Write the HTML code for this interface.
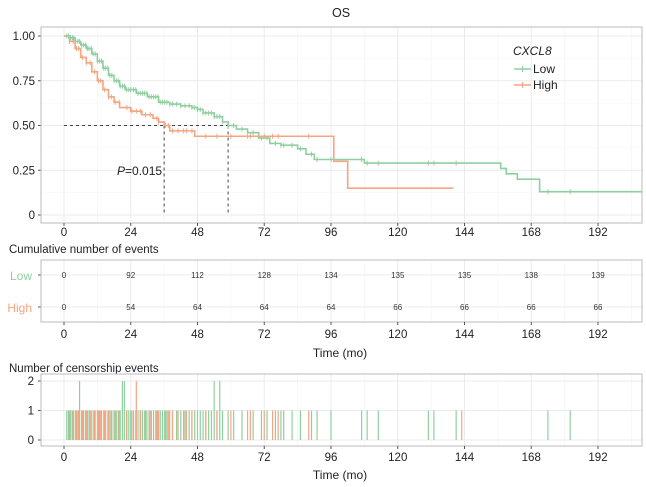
<!DOCTYPE html>
<html><head><meta charset="utf-8"><style>
body{margin:0;background:#fff;}
svg text{font-family:"Liberation Sans",sans-serif;}
</style></head><body>
<svg id="c" width="646" height="482" xmlns="http://www.w3.org/2000/svg"></svg>
<script>
const xTicks=[0,24,48,72,96,120,144,168,192];
const yTicks=[0,0.25,0.5,0.75,1];
const yTickLabels=["0","0.25","0.50","0.75","1.00"];
const lowT=[0,2,4,6,8,10,12,14,16,18,20,22,26,30,34,38,42,46,48,50,54,57,59,62,66,70,74,78,84,87,90,108,157,159,163,171,208];
const lowS=[1,0.99,0.97,0.95,0.93,0.9,0.86,0.82,0.78,0.75,0.72,0.7,0.68,0.66,0.63,0.62,0.61,0.6,0.59,0.57,0.55,0.52,0.5,0.48,0.46,0.43,0.4,0.39,0.37,0.34,0.31,0.29,0.26,0.23,0.2,0.13,0.13];
const highT=[0,2,4,6,8,10,12,14,16,18,20,24,28,32,34,36,38,47,97,102,140];
const highS=[1,0.97,0.93,0.88,0.85,0.8,0.75,0.7,0.66,0.63,0.6,0.58,0.56,0.54,0.52,0.5,0.47,0.44,0.3,0.15,0.15];
const lowCum=[0,92,112,128,134,135,135,138,139];
const highCum=[0,54,64,64,64,66,66,66,66];
const lowCens=[1,1.6,2.4,3,3.5,4.2,5,5.6,6.3,7,7.7,8.4,9,9.8,10.5,11.2,12,12.8,13.5,14.3,15,15.8,16.5,17.2,18,18.8,19.5,20.2,21,21.7,22.5,23.3,24,25,25.8,26.6,27.4,28.2,29,29.8,30.6,31.4,32.2,33,33.8,34.6,35.4,36.2,37,38,39,40.5,42,43.5,45,46,47,48,49,50,51,52,53,54,55,56,57,59,61,64,68,71,73,76,78,79,82,85,89,91,96,107,109,113,131,133,141,174,182];
const lowCensN=[1,1,1,1,1,1,1,2,1,1,1,1,1,1,1,1,1,1,1,1,1,1,1,1,1,1,1,1,2,2,1,1,1,1,1,1,1,1,1,1,1,1,1,1,1,1,1,1,1,1,1,1,1,1,1,1,1,1,1,1,1,1,1,2,1,2,1,1,1,1,1,1,1,1,1,1,1,1,1,1,1,1,1,1,1,1,1,1,1];
const highCens=[2,3.3,4.5,5.3,6.6,8,9.4,11,12.4,13.2,14.6,16,17,18.4,19.8,22.6,24.4,26,27.5,29.3,31,33.4,34,36.5,37.5,39,41,43,44,46,51,55,60,66,67,72,75,77,88,143];
const highCensN=[1,1,1,1,1,1,1,1,1,1,1,1,1,1,1,1,1,2,1,1,1,1,1,1,1,1,1,1,1,1,1,1,1,1,1,1,1,1,1,1];
const G="#8fcf9f",O="#f4a582";
const svg=document.getElementById('c');const NS="http://www.w3.org/2000/svg";
function el(t,a,p){const e=document.createElementNS(NS,t);for(const k in a)e.setAttribute(k,a[k]);(p||svg).appendChild(e);return e;}
const X0=41,X1=642;
const xs=v=>64+v*(598-64)/192;
const ys=v=>215-v*179;
let t=el('text',{x:341,y:17,'text-anchor':'middle','font-size':12.5,fill:'#222'});t.textContent='OS';

function panel(y0,y1,name){
 const g=el('g',{});
 xTicks.forEach((v,i)=>{el('line',{x1:xs(v),x2:xs(v),y1:y0,y2:y1,stroke:'#ebebeb','stroke-width':1},g);
  el('line',{x1:xs(v+12),x2:xs(v+12),y1:y0,y2:y1,stroke:'#f4f4f4','stroke-width':0.6},g);});
 return g;}
function xAxis(g,y1,ly){xTicks.forEach(v=>{el('line',{x1:xs(v),x2:xs(v),y1:y1,y2:y1+3,stroke:'#555'},g);
 const tt=el('text',{x:xs(v),y:ly,'text-anchor':'middle','font-size':11.5,fill:'#222'},g);tt.textContent=v;
 });}
const g1=panel(27,223,'survival-panel');
yTicks.forEach((v,i)=>{el('line',{x1:X0,x2:X1,y1:ys(v),y2:ys(v),stroke:'#ebebeb'},g1);
 if(i<4)el('line',{x1:X0,x2:X1,y1:ys(v+0.125),y2:ys(v+0.125),stroke:'#f4f4f4','stroke-width':0.6},g1);
 el('line',{x1:X0-3,x2:X0,y1:ys(v),y2:ys(v),stroke:'#555'},g1);
 const tt=el('text',{x:X0-6,y:ys(v)+4,'text-anchor':'end','font-size':11.5,fill:'#222'},g1);tt.textContent=yTickLabels[i];
 });
el('rect',{x:X0,y:27,width:X1-X0,height:196,fill:'none',stroke:'#bbb'},g1);
xAxis(g1,223,236);
function curve(T,S,col,name){let d='M'+xs(T[0])+','+ys(S[0]);
 for(let i=1;i<T.length;i++){d+='H'+xs(T[i])+'V'+ys(S[i]);}
 const p=el('path',{d:d,fill:'none',stroke:col,'stroke-width':1.6});}
const ml=el('path',{d:`M${xs(0)},${ys(0.5)}H${xs(59)}M${xs(36)},${ys(0.5)}V${ys(0)}M${xs(59)},${ys(0.5)}V${ys(0)}`,stroke:'#444','stroke-dasharray':'3,3',fill:'none'});

curve(lowT,lowS,G,'low-curve');curve(highT,highS,O,'high-curve');
function survAt(T,S,x){let s=S[0];for(let i=0;i<T.length;i++)if(T[i]<=x)s=S[i];return s;}
lowCens.forEach(c=>{const m=el('line',{x1:xs(c),x2:xs(c),y1:ys(survAt(lowT,lowS,c))-2.5,y2:ys(survAt(lowT,lowS,c))+2.5,stroke:G});});
highCens.filter(c=>c<=140).forEach(c=>{const m=el('line',{x1:xs(c),x2:xs(c),y1:ys(survAt(highT,highS,c))-2.5,y2:ys(survAt(highT,highS,c))+2.5,stroke:O});});
t=el('text',{x:117,y:175,'font-size':12,fill:'#222'});t.innerHTML='<tspan font-style="italic">P</tspan>=0.015';

const lg=el('g',{});
el('text',{x:513,y:55,'font-size':12,'font-style':'italic',fill:'#222'},lg).textContent='CXCL8';
[['Low',G,69],['High',O,85]].forEach(([n,c,y])=>{el('line',{x1:514,x2:531,y1:y,y2:y,stroke:c,'stroke-width':1.6},lg);el('line',{x1:522.5,x2:522.5,y1:y-3,y2:y+3,stroke:c},lg);
 const tt=el('text',{x:533,y:y+4,'font-size':12,fill:'#222'},lg);tt.textContent=n;});
t=el('text',{x:9,y:253,'font-size':11.5,fill:'#222'});t.textContent='Cumulative number of events';
const g2=panel(260,322,'events-table');
[[275,'Low',G,lowCum],[307,'High',O,highCum]].forEach(([y,n,c,arr])=>{el('line',{x1:X0,x2:X1,y1:y,y2:y,stroke:'#ebebeb'},g2);
 el('line',{x1:X0-3,x2:X0,y1:y,y2:y,stroke:'#555'},g2);
 const lt=el('text',{x:X0-9,y:y+5,'text-anchor':'end','font-size':12,fill:c},g2);lt.textContent=n;
 
 arr.forEach((v,i)=>{const tt=el('text',{x:xs(xTicks[i]),y:y+3,'text-anchor':'middle','font-size':8,'font-family':'Liberation Serif',fill:'#333'},g2);tt.textContent=v;});});
el('rect',{x:X0,y:260,width:X1-X0,height:62,fill:'none',stroke:'#bbb'},g2);
xAxis(g2,322,338);
t=el('text',{x:340,y:357,'text-anchor':'middle','font-size':12,fill:'#222'});t.textContent='Time (mo)';
t=el('text',{x:9,y:372,'font-size':11.5,fill:'#222'});t.textContent='Number of censorship events';
const g3=panel(374,446,'censor-panel');
const cy=v=>440-v*29.5;
[0,1,2].forEach(v=>{el('line',{x1:X0,x2:X1,y1:cy(v),y2:cy(v),stroke:'#ebebeb'},g3);el('line',{x1:X0-3,x2:X0,y1:cy(v),y2:cy(v),stroke:'#555'},g3);
 const tt=el('text',{x:X0-7,y:cy(v)+4,'text-anchor':'end','font-size':11.5,fill:'#222'},g3);tt.textContent=v;});
el('rect',{x:X0,y:374,width:X1-X0,height:72,fill:'none',stroke:'#bbb'},g3);
lowCens.forEach((c,i)=>{const b=el('line',{x1:xs(c),x2:xs(c),y1:cy(0),y2:cy(lowCensN[i]),stroke:G,'stroke-width':1.2},g3);});
highCens.forEach((c,i)=>{const b=el('line',{x1:xs(c),x2:xs(c),y1:cy(0),y2:cy(highCensN[i]),stroke:O,'stroke-width':1.2},g3);});
xAxis(g3,446,461);
t=el('text',{x:340,y:479,'text-anchor':'middle','font-size':12,fill:'#222'});t.textContent='Time (mo)';
</script>
</body></html>
